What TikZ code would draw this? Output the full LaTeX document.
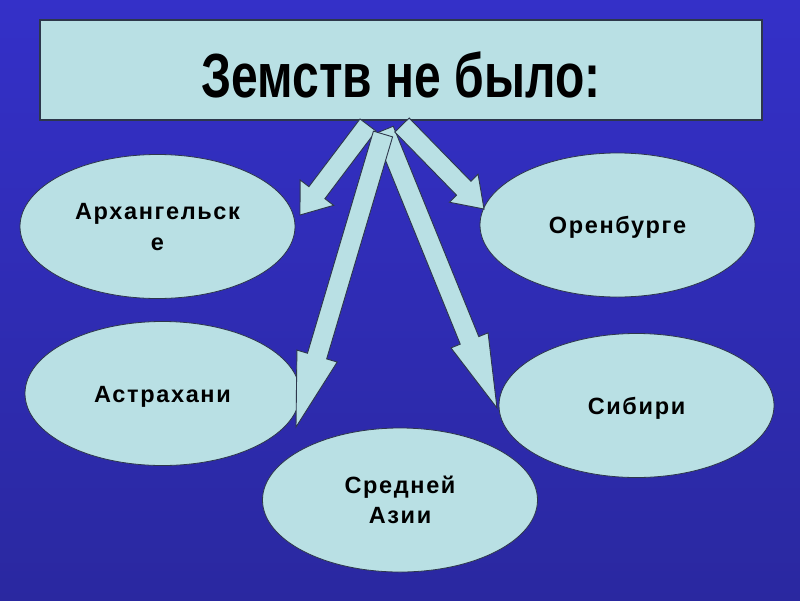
\documentclass[tikz,border=0pt]{standalone}
\usepackage{fontspec}
\setmainfont{Liberation Sans}
\usetikzlibrary{calc,shapes.geometric}
\definecolor{bgtop}{RGB}{52,48,200}
\definecolor{bgbot}{RGB}{42,40,160}
\definecolor{pale}{RGB}{185,224,228}
\definecolor{edgec}{RGB}{45,55,75}
\tikzset{
  titlebox/.style={draw=edgec,line width=1.3pt,fill=pale,minimum width=722pt,minimum height=100pt,inner sep=0pt,
    text height=54pt,text depth=0pt,font=\bfseries\fontsize{48}{52}\selectfont},
  place/.style={ellipse,draw=edgec,line width=0.8pt,fill=pale,minimum width=275pt,minimum height=144pt,inner sep=0pt,
    align=center,text height=17pt,text depth=0pt,
    font=\bfseries\fontsize{23.5}{30.5}\selectfont\addfontfeatures{LetterSpace=7}},
  placetwo/.style={place,text height=47.5pt},
  arrowbody/.style={draw=edgec,line width=0.9pt,fill=pale,line join=miter}
}
\newcommand\fatarrow[4]{%
  \coordinate (hb) at ($(#2)!#3!(#1)$);
  \draw[arrowbody] ($(#1)!10pt!90:(#2)$) -- ($(hb)!10pt!90:(#2)$) -- ($(hb)!#4!90:(#2)$) -- (#2)
    -- ($(hb)!#4!-90:(#2)$) -- ($(hb)!10pt!-90:(#2)$) -- ($(#1)!10pt!-90:(#2)$) -- cycle;
}
\begin{document}
\begin{tikzpicture}[x=1pt,y=-1pt]
\shade[top color=bgtop,bottom color=bgbot] (0,0) rectangle (800,600);
\useasboundingbox (0,0) rectangle (800,600);
\node[titlebox] (title) at (401,70) {\scalebox{1}[1.3]{Земств не было:}};
\node[placetwo] (arh) at (157.5,226.5) {Архангельск\\е};
\node[place] (oren) at (617.5,225) {Оренбурге};
\node[place] (astr) at (162.5,393.5) {Астрахани};
\node[place] (sib) at (636.5,405.5) {Сибири};
\node[placetwo] (asia) at (400,500) {Средней\\Азии};
\coordinate (s1) at (368,125); \coordinate (e1) at (300,215);
\coordinate (s2) at (402,125); \coordinate (e2) at (484,209);
\coordinate (s3) at (383,134); \coordinate (e3) at (296,427);
\coordinate (s4) at (384,130); \coordinate (e4) at (497,408);
\fatarrow{s4}{e4}{73pt}{20pt}
\fatarrow{s2}{e2}{29pt}{20pt}
\fatarrow{s1}{e1}{28pt}{21pt}
\fatarrow{s3}{e3}{74pt}{21pt}
\end{tikzpicture}
\end{document}
